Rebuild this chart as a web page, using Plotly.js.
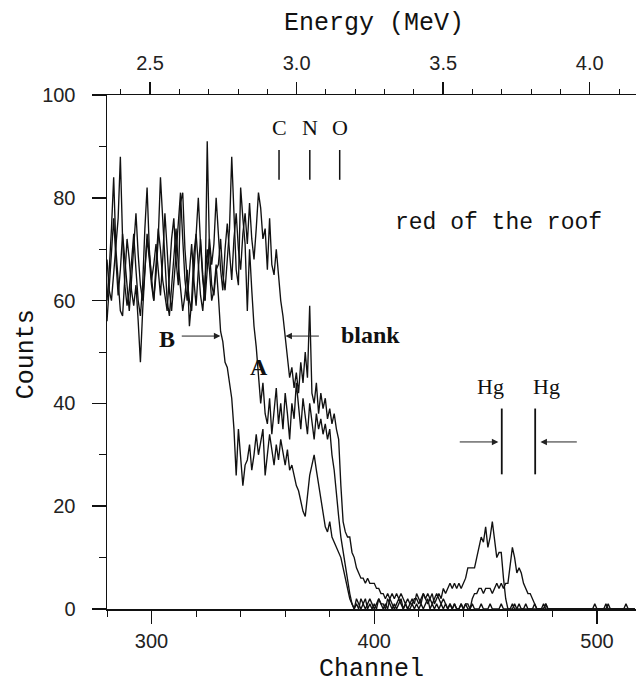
<!DOCTYPE html>
<html>
<head>
<meta charset="utf-8">
<script src="https://cdn.plot.ly/plotly-3.0.1.min.js"></script>
<style>html,body{margin:0;padding:0;background:#fff;}#chart{width:636px;height:683px;}</style>
</head>
<body>
<div id="chart"></div>
<script>
// First channel of every spectrum; one value per channel follows
const firstChannel = 280;

const countsB = [
 60,66,74,84,70,63,58,57,64,72,
 68,62,59,63,56,48,58,66,73,69,
 64,60,65,72,84,76,66,60,57,63,
 70,74,67,62,58,61,66,55,60,69,
 73,67,61,58,64,70,66,60,62,67,
 61,54,52,48,47,44,41,35,26,35,
 30,24,28,29,32,27,30,34,30,33,
 35,26,30,34,31,28,32,29,33,30,
 28,31,27,28,26,24,23,21,19,18,
 22,26,28,30,27,24,22,19,16,15,
 17,14,13,12,11,10,8,6,4,2,
 1,0,1,0,2,1,0,1,2,1,
 0,1,2,1,0,1,0,2,1,0,
 1,2,1,0,1,0,1,2,1,3,
 2,1,3,2,1,2,3,1,2,3,
 2,4,3,4,5,4,5,4,5,4,
 5,6,8,8,8,8,10,12,14,13,
 16,12,14,17,13,10,11,11,6,2,
 0,0,1,0,0,1,0,0,1,0,
 0,0,1,0,0,0,1,0,0,0,
 0,0,0,0,0,0,0,0,0,0,
 0,0,0,0,0,0,0,0,0,1,
 0,0,0,0,1,0,0,0,0,0,
 0,0,0,1,0,0,0,0
];

const countsA = [
 68,62,60,65,71,76,88,72,63,59,
 62,68,73,66,60,57,63,74,82,70,
 64,67,71,66,61,68,77,70,62,58,
 63,69,75,81,72,64,60,66,71,64,
 59,66,72,65,60,91,70,63,61,66,
 67,72,65,62,68,74,88,76,66,63,
 82,76,71,58,70,62,55,51,45,40,
 44,38,36,41,34,39,43,36,40,35,
 42,38,33,40,37,44,39,35,41,37,
 34,40,36,33,38,35,37,34,36,33,
 35,30,27,22,18,14,11,8,6,3,
 1,0,2,1,0,1,2,0,1,0,
 1,0,2,1,1,0,2,1,0,1,
 0,1,2,0,1,0,0,1,0,1,
 0,1,0,1,2,0,1,0,1,0,
 1,0,1,0,1,0,1,0,0,1,
 0,1,1,0,2,3,3,4,4,3,
 4,4,4,3,4,5,4,5,4,5,
 5,8,12,10,7,8,7,5,4,3,
 3,2,1,0,0,0,0,1,0,0,
 0,0,0,0,0,0,0,0,0,0,
 0,0,0,0,0,0,0,0,0,0,
 0,0,0,0,0,1,0,0,0,0,
 0,0,0,0,0,0,0,0
];

const countsBlank = [
 56,63,70,76,68,61,66,73,68,62,
 58,64,70,77,69,63,60,66,72,68,
 63,60,67,74,70,64,61,58,65,72,
 76,68,63,79,81,70,64,60,58,66,
 73,80,71,64,60,66,72,67,71,80,
 73,66,62,70,75,69,64,72,77,70,
 66,73,77,71,79,72,68,74,81,78,
 72,74,66,76,67,65,70,65,60,57,
 53,48,45,47,43,46,42,48,44,50,
 45,59,42,40,44,38,42,39,41,37,
 39,36,38,35,33,24,17,15,14,14,
 11,10,8,7,6,6,5,6,5,5,
 5,4,4,3,3,2,3,2,3,2,
 3,2,3,2,1,2,1,1,2,2,
 1,2,3,2,3,2,1,2,3,2,
 1,2,1,0,1,0,1,0,0,1,
 0,1,0,0,1,0,0,0,1,0,
 0,0,1,0,0,0,0,1,0,0,
 0,0,0,1,0,0,0,0,0,0,
 0,0,0,0,0,0,0,1,0,0,
 0,0,0,0,0,0,0,0,0,0,
 0,0,0,0,0,0,0,0,0,0,
 0,0,0,0,0,0,0,0,0,0,
 0,0,0,0,0,0,0,0
];

// Axis ticks
const channelTicks = [300, 400, 500];
const countTicks = [0, 20, 40, 60, 80, 100];
const energyTicks = [2.5, 3.0, 3.5, 4.0];
const energyTickLabels = ['2.5', '3.0', '3.5', '4.0'];

// Element edge markers (energy, MeV)
const elementLabels = ['C', 'N', 'O'];
const elementEnergies = [2.94, 3.045, 3.147];
const hgLabels = ['Hg', 'Hg'];
const hgEnergies = [3.70, 3.814];

function chans(arr){ return arr.map((_, i) => firstChannel + i); }

const lineStyle = {color: '#111', width: 1.35};
const traces = [countsB, countsA, countsBlank].map((c, k) => ({
  x: chans(c), y: c, type: 'scatter', mode: 'lines',
  line: lineStyle, hoverinfo: 'skip', showlegend: false,
  name: ['B', 'A', 'blank'][k]
}));
// invisible trace to activate top energy axis
traces.push({x: energyTicks, y: [0,0,0,0], xaxis: 'x2', yaxis: 'y', mode: 'markers',
  marker: {opacity: 0}, hoverinfo: 'skip', showlegend: false});

const tickFont = {family: 'Liberation Sans, Arial, sans-serif', size: 20, color: '#222'};
const monoFont = {family: 'Liberation Mono, Courier New, monospace', size: 25, color: '#111'};
const serif = {family: 'Liberation Serif, Times New Roman, serif', size: 22, color: '#111'};
const serifBold = {family: 'Liberation Serif, Times New Roman, serif', size: 24, color: '#111', weight: 'bold'};

const shapes = [];
const annotations = [];

elementEnergies.forEach((e, i) => {
  shapes.push({type: 'line', xref: 'x2', yref: 'y', x0: e, x1: e, y0: 83.5, y1: 89.3,
    line: {color: '#111', width: 1.5}});
  annotations.push({xref: 'x2', yref: 'y', x: e, y: 93.6, text: elementLabels[i],
    showarrow: false, font: serif});
});
hgEnergies.forEach((e, i) => {
  shapes.push({type: 'line', xref: 'x2', yref: 'y', x0: e, x1: e, y0: 26.2, y1: 39,
    line: {color: '#111', width: 1.8}});
  annotations.push({xref: 'x2', yref: 'y', x: e + (i === 0 ? -0.04 : 0.04), y: 43.3, text: hgLabels[i],
    showarrow: false, font: serif});
});

function arrow(x, y, ax, ay){
  return {xref: 'x', yref: 'y', axref: 'x', ayref: 'y', x: x, y: y, ax: ax, ay: ay,
    text: '', showarrow: true, arrowhead: 2, arrowsize: 1.3, arrowwidth: 1, arrowcolor: '#222'};
}
annotations.push(arrow(330.9, 53.1, 312.9, 53.1));
annotations.push(arrow(360.1, 53.1, 375.8, 53.1));
annotations.push(arrow(455.7, 32.5, 437.7, 32.5));
annotations.push(arrow(474.6, 32.5, 491.6, 32.5));

annotations.push({xref: 'x', yref: 'y', x: 307, y: 52.5, text: 'B', showarrow: false, font: serifBold});
annotations.push({xref: 'x', yref: 'y', x: 348.4, y: 47.1, text: 'A', showarrow: false, font: serifBold});
annotations.push({xref: 'x', yref: 'y', x: 398.2, y: 53.3, text: 'blank', showarrow: false, font: serifBold});
annotations.push({xref: 'x', yref: 'y', x: 455.7, y: 75.1, text: 'red of the roof', showarrow: false,
  font: {family: 'Liberation Mono, Courier New, monospace', size: 23, color: '#111'}});

// Axis titles
annotations.push({xref: 'paper', yref: 'paper', x: 0.505, y: 1.139, text: 'Energy (MeV)',
  showarrow: false, font: monoFont, xanchor: 'center', yanchor: 'middle'});
annotations.push({xref: 'paper', yref: 'paper', x: 0.50, y: -0.117, text: 'Channel',
  showarrow: false, font: monoFont, xanchor: 'center', yanchor: 'middle'});
annotations.push({xref: 'paper', yref: 'paper', x: -0.152, y: 0.495, text: 'Counts', textangle: -90,
  showarrow: false, font: monoFont, xanchor: 'center', yanchor: 'middle'});

const layout = {
  width: 636, height: 683,
  margin: {l: 107, r: 0, t: 95, b: 74},
  paper_bgcolor: '#fff', plot_bgcolor: '#fff',
  showlegend: false,
  xaxis: {
    range: [280, 517.5], tickvals: channelTicks, ticktext: channelTicks.map(String),
    ticks: 'outside', ticklen: 13, tickwidth: 1.5, tickcolor: '#111',
    minor: {dtick: 20, tick0: 280, ticks: 'outside', ticklen: 6, tickwidth: 1, tickcolor: '#111', showgrid: false},
    showline: true, linecolor: '#111', linewidth: 1.5, showgrid: false, zeroline: false,
    tickfont: tickFont, ticklabelstandoff: 0
  },
  xaxis2: {
    overlaying: 'x', side: 'top', anchor: 'y', range: [2.353, 4.158],
    tickvals: energyTicks, ticktext: energyTickLabels,
    ticks: 'outside', ticklen: 12, tickwidth: 1.5, tickcolor: '#111',
    minor: {dtick: 0.1, tick0: 2.0, ticks: 'outside', ticklen: 5, tickwidth: 1, tickcolor: '#111', showgrid: false},
    showline: true, linecolor: '#111', linewidth: 1.5, showgrid: false, zeroline: false,
    tickfont: tickFont, ticklabelstandoff: 4
  },
  yaxis: {
    range: [0, 100], tickvals: countTicks, ticktext: countTicks.map(String),
    ticks: 'outside', ticklen: 14, tickwidth: 1.5, tickcolor: '#111',
    minor: {dtick: 10, ticks: 'outside', ticklen: 7, tickwidth: 1, tickcolor: '#111', showgrid: false},
    showline: true, linecolor: '#111', linewidth: 1.5, showgrid: false, zeroline: false,
    tickfont: tickFont, ticklabelstandoff: 12
  },
  shapes: shapes,
  annotations: annotations
};

Plotly.newPlot('chart', traces, layout, {staticPlot: true, displayModeBar: false});
</script>
</body>
</html>
